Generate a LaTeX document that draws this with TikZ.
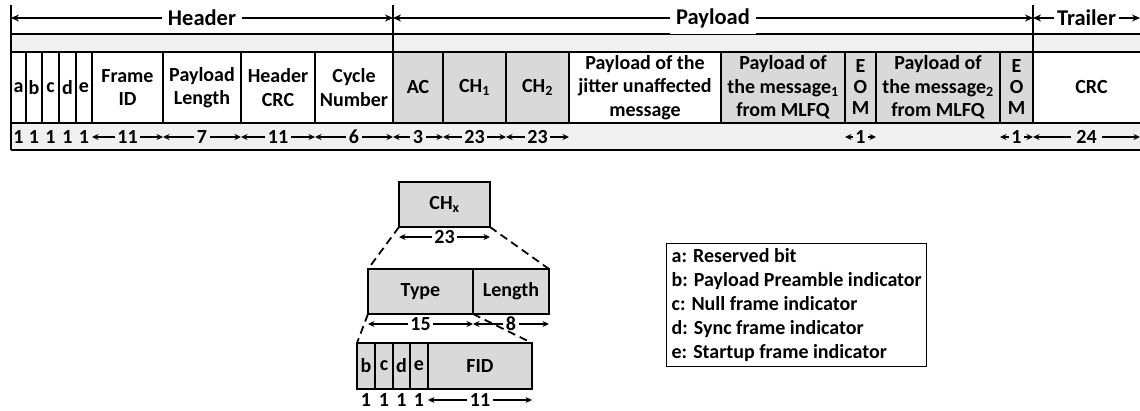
\documentclass[tikz,border=0pt]{standalone}
\usepackage{fontspec}
\setmainfont{Carlito}
\usetikzlibrary{arrows.meta}
\definecolor{fieldgray}{HTML}{D9D9D9}
\definecolor{stripgray}{HTML}{F0F0F0}
\tikzset{
  lbl/.style={font=\bfseries\fontsize{20}{23.5}\selectfont},
  biglbl/.style={font=\bfseries\fontsize{22.5}{26}\selectfont},
  fld/.style={lbl, draw, line width=1.3pt, inner sep=0pt, outer sep=0pt,
              align=center, anchor=north west},
  dim/.style={line width=1.3pt, {Stealth[length=6.5pt,width=6pt]}-{Stealth[length=6.5pt,width=6pt]}},
  span/.style={line width=1.6pt, {Stealth[length=8pt,width=7pt]}-{Stealth[length=8pt,width=7pt]}},
  dimlbl/.style={lbl, fill=#1, inner sep=2.5pt},
  bound/.style={line width=2.2pt},
  rule/.style={line width=1.3pt},
  dashline/.style={line width=1.8pt, dash pattern=on 8pt off 5pt},
  stacked/.style={font=\bfseries\fontsize{20}{21}\selectfont},
}
% field in the frame row: name, left x, right x, fill, text
\newcommand\framefield[5]{%
  \node[fld, fill=#4, minimum width={(#3-#2)*1pt}, minimum height=71pt] (#1) at (#2,52) {#5};}
% field in the lower breakdown: name, left x, top y, right x, bottom y, text
\newcommand\subfield[6]{%
  \node[fld, fill=fieldgray, minimum width={(#4-#2)*1pt}, minimum height={(#5-#3)*1pt}] (#1) at (#2,#3) {#6};}
% width arrow under a field: field, vertical offset, background, text
\newcommand\measure[4]{%
  \draw[dim] ([yshift=#2]#1.south west) -- ([yshift=#2]#1.south east)
    node[midway, dimlbl=#3] (m-#1) {#4};}
% single-bit label under a field: field, vertical offset, text
\newcommand\bitlabel[3]{%
  \node[lbl, inner sep=0pt] (n-#1) at ([yshift=#2]#1.south) {#3};}

\begin{document}
\begin{tikzpicture}[x=1pt, y=-1pt]
\useasboundingbox (0,0) rectangle (1140,410);

% background strips above and below the frame fields
\fill[stripgray] (11,34) rectangle (1150,52);
\fill[stripgray] (11,123) rectangle (1150,150);

% header fields
\framefield{fa}{11}{26}{white}{a}
\framefield{fb}{26}{42}{white}{b}
\framefield{fc}{42}{59}{white}{c}
\framefield{fd}{59}{76}{white}{d}
\framefield{fe}{76}{92}{white}{e}
\framefield{fid}{92}{163}{white}{Frame\\ID}
\framefield{plen}{163}{241}{white}{Payload\\Length}
\framefield{hcrc}{241}{315}{white}{Header\\CRC}
\framefield{cyc}{315}{393}{white}{Cycle\\Number}
% payload fields
\framefield{ac}{393}{443}{fieldgray}{AC}
\framefield{ch1}{443}{506}{fieldgray}{CH\textsubscript{1}}
\framefield{ch2}{506}{569}{fieldgray}{CH\textsubscript{2}}
\framefield{jit}{569}{721}{white}{Payload of the\\jitter unaffected\\message}
\framefield{msga}{721}{845}{fieldgray}{Payload of\\the message\textsubscript{1}\\from MLFQ}
\node[fld, stacked, fill=fieldgray, minimum width=31pt, minimum height=71pt]
  (eoma) at (845,52) {E\\O\\M};
\framefield{msgb}{876}{1000}{fieldgray}{Payload of\\the message\textsubscript{2}\\from MLFQ}
\node[fld, stacked, fill=fieldgray, minimum width=33pt, minimum height=71pt]
  (eomb) at (1000,52) {E\\O\\M};
% trailer field
\framefield{crc}{1033}{1150}{white}{CRC}

% outlines of the strips
\draw[rule] (11,34) -- (1150,34);
\draw[rule] (11,150) -- (1150,150);

% section boundaries
\coordinate (b0top) at (11,5);   \coordinate (b0bot) at (11,150);
\coordinate (b1top) at (393,5);  \coordinate (b1bot) at (393,123);
\coordinate (b2top) at (1033,5); \coordinate (b2bot) at (1033,123);
\coordinate (b3top) at (1140,5);
\draw[bound] (b0top) -- (b0bot);
\draw[bound] (b1top) -- (b1bot);
\draw[bound] (b2top) -- (b2bot);

% section spans
\draw[span] ([yshift=-13pt]b0top) -- ([yshift=-13pt]b1top)
  node[midway, biglbl, fill=white, inner sep=6pt] (hdr) {Header};
\draw[span] ([yshift=-13pt]b1top) -- ([yshift=-13pt]b2top)
  node[midway, biglbl, fill=white, inner sep=6pt] (pay) {Payload};
\draw[span] ([yshift=-13pt]b2top) -- ([yshift=-13pt]b3top)
  node[midway, biglbl, fill=white, inner sep=3pt] (trl) {Trailer};

% field widths
\bitlabel{fa}{-14pt}{1}
\bitlabel{fb}{-14pt}{1}
\bitlabel{fc}{-14pt}{1}
\bitlabel{fd}{-14pt}{1}
\bitlabel{fe}{-14pt}{1}
\measure{fid}{-14pt}{stripgray}{11}
\measure{plen}{-14pt}{stripgray}{7}
\measure{hcrc}{-14pt}{stripgray}{11}
\measure{cyc}{-14pt}{stripgray}{6}
\measure{ac}{-14pt}{stripgray}{3}
\measure{ch1}{-14pt}{stripgray}{23}
\measure{ch2}{-14pt}{stripgray}{23}
\measure{eoma}{-14pt}{stripgray}{1}
\measure{eomb}{-14pt}{stripgray}{1}
\draw[dim] ([yshift=-14pt]crc.south west) -- ([yshift=-14pt]b3top |- crc.south)
  node[midway, dimlbl=stripgray, inner sep=5pt] (m-crc) {24};

% breakdown of a channel field
\subfield{chx}{399}{182}{490}{227}{CH\textsubscript{x}}
\measure{chx}{-10pt}{white}{23}
\subfield{type}{368}{269}{473}{314}{Type}
\subfield{len}{473}{269}{549}{314}{Length}
\measure{type}{-10pt}{white}{15}
\measure{len}{-10pt}{white}{8}
\subfield{sb}{357}{343}{375}{389}{b}
\subfield{sc}{375}{343}{393}{389}{c}
\subfield{sd}{393}{343}{410}{389}{d}
\subfield{se}{410}{343}{428}{389}{e}
\subfield{sfid}{428}{343}{532}{389}{FID}
\bitlabel{sb}{-11pt}{1}
\bitlabel{sc}{-11pt}{1}
\bitlabel{sd}{-11pt}{1}
\bitlabel{se}{-11pt}{1}
\measure{sfid}{-11pt}{white}{11}

% zoom guides
\draw[dashline] (chx.south west) -- (type.north west);
\draw[dashline] (chx.south east) -- (len.north east);
\draw[dashline] (type.south west) -- (sb.north west);
\draw[dashline] (type.south east) -- (sfid.north east);

% legend
\node[lbl, draw, line width=1.3pt, align=left, anchor=north west, inner sep=5pt,
      font=\bfseries\fontsize{20}{24}\selectfont] (legend) at (666,243)
  {a: Reserved bit\\
   b: Payload Preamble indicator\\
   c: Null frame indicator\\
   d: Sync frame indicator\\
   e: Startup frame indicator};
\end{tikzpicture}
\end{document}
